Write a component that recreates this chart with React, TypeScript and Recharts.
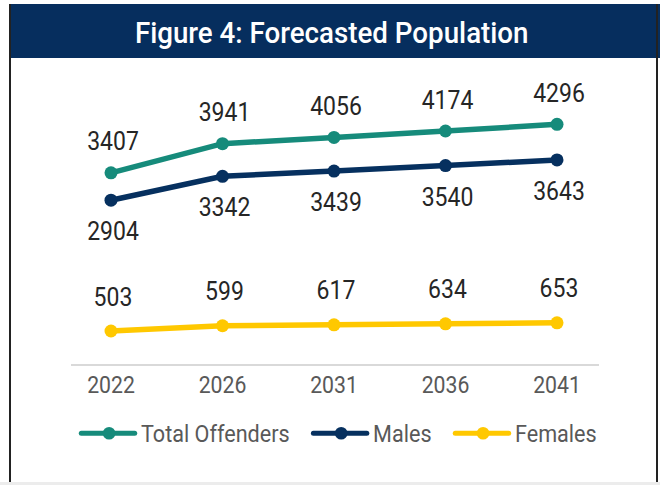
import React from 'react';
import { LineChart, Line, XAxis, YAxis, Legend, LabelList } from 'recharts';

const years = ['2022', '2026', '2031', '2036', '2041'];
const totalOffenders = [3407, 3941, 4056, 4174, 4296];
const males = [2904, 3342, 3439, 3540, 3643];
const females = [503, 599, 617, 634, 653];

const data = years.map((y, i) => ({
  year: y,
  total: totalOffenders[i],
  males: males[i],
  females: females[i],
}));

const series = [
  { key: 'total', name: 'Total Offenders', color: '#168B7B', labelDy: -22.5 },
  { key: 'males', name: 'Males', color: '#06305F', labelDy: 40 },
  { key: 'females', name: 'Females', color: '#FFC800', labelDy: -25.5 },
];

const FONT = 'Roboto, "Noto Sans", sans-serif';

const measure = (t: string, font: string): number => {
  try {
    const c = document.createElement('canvas').getContext('2d');
    if (!c) return t.length * 12;
    c.font = font;
    return c.measureText(t).width;
  } catch (e) {
    return t.length * 12;
  }
};

const makeLabel = (dy: number) => (props: any) => {
  const { x, y, value } = props;
  if (x == null || y == null) return null;
  return (
    <text
      transform={`translate(${Number(x) + 2},${Number(y) + dy}) scale(0.92,1)`}
      textAnchor="middle"
      fontFamily={FONT}
      fontSize={25}
      fill="#262626"
    >
      {value}
    </text>
  );
};

const Tick = (props: any) => {
  const { x, y, payload } = props;
  return (
    <text
      transform={`translate(${x},${Number(y) + 28}) scale(0.885,1)`}
      textAnchor="middle"
      fontFamily={FONT}
      fontSize={24}
      fill="#595959"
    >
      {payload.value}
    </text>
  );
};

const LegendContent = () => {
  const sx = 0.9;
  let x = 79.3;
  const items = series.map((s) => {
    const w = measure(s.name, '24px Roboto') * sx;
    const item = { ...s, x0: x, w };
    x = x + 61.7 + w + 21.7;
    return item;
  });
  return (
    <svg width={660} height={30} style={{ display: 'block' }}>
      {items.map((it) => (
        <g key={it.key}>
          <line x1={it.x0 + 2} x2={it.x0 + 55.4} y1={15.3} y2={15.3} stroke={it.color} strokeWidth={5} strokeLinecap="round" />
          <circle cx={it.x0 + 29.8} cy={15.3} r={6.3} fill={it.color} />
          <text
            transform={`translate(${it.x0 + 61.7},23.7) scale(${sx},1)`}
            fontFamily={FONT}
            fontSize={24}
            fill="#595959"
          >
            {it.name}
          </text>
        </g>
      ))}
    </svg>
  );
};

export default function App() {
  return (
    <div
      style={{
        position: 'absolute',
        left: 0,
        top: 0,
        width: 660,
        height: 485,
        background: '#ffffff',
        overflow: 'hidden',
        fontFamily: FONT,
      }}
    >
      <div style={{ position: 'absolute', left: 11, top: 4, width: 649, height: 54, background: '#062E5E' }} />
      <div
        style={{
          position: 'absolute',
          left: 9,
          top: 4,
          width: 649,
          height: 478,
          borderLeft: '2.5px solid #222',
          borderRight: '2.5px solid #222',
          boxSizing: 'border-box',
        }}
      />
      <div style={{ position: 'absolute', left: 0, top: 482, width: 660, height: 3, background: '#ececec' }} />
      <svg width={660} height={60} style={{ position: 'absolute', left: 0, top: 0 }}>
        <text
          transform="translate(331.7,42.7) scale(0.94,1)"
          textAnchor="middle"
          fontFamily={FONT}
          fontSize={29.5}
          fontWeight={500}
          fill="#ffffff"
        >
          Figure 4: Forecasted Population
        </text>
      </svg>
      <div style={{ position: 'absolute', left: 0, top: 0 }}>
        <LineChart width={660} height={485} data={data} margin={{ top: 86, right: 61, left: 71, bottom: 50 }}>
          <XAxis
            dataKey="year"
            padding={{ left: 40, right: 42 }}
            axisLine={{ stroke: '#D9D9D9', strokeWidth: 2 }}
            tickLine={false}
            tickSize={0}
            tickMargin={0}
            height={40}
            tick={<Tick />}
            interval={0}
          />
          <YAxis hide type="number" domain={[-121, 5000]} allowDataOverflow />
          <Legend
            verticalAlign="bottom"
            content={<LegendContent />}
            wrapperStyle={{ position: 'absolute', top: 418, left: 0, width: 660, height: 30 }}
          />
          {series.map((s) => (
            <Line
              key={s.key}
              type="linear"
              dataKey={s.key}
              name={s.name}
              stroke={s.color}
              strokeWidth={5.5}
              dot={{ r: 6.5, fill: s.color, stroke: s.color, strokeWidth: 0 }}
              activeDot={false}
              isAnimationActive={false}
            >
              <LabelList dataKey={s.key} content={makeLabel(s.labelDy)} />
            </Line>
          ))}
        </LineChart>
      </div>
    </div>
  );
}
